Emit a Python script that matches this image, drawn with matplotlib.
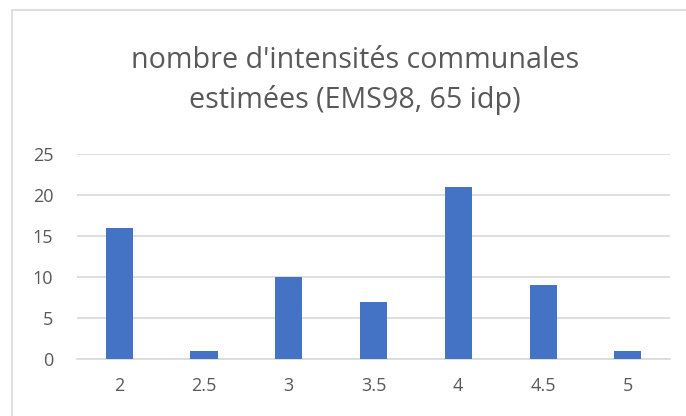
import matplotlib
matplotlib.use("Agg")
import matplotlib.pyplot as plt
from matplotlib.patches import Rectangle

categories = ["2", "2.5", "3", "3.5", "4", "4.5", "5"]
counts = [16, 1, 10, 7, 21, 9, 1]
title = "nombre d'intensités communales\nestimées (EMS98, 65 idp)"

plt.rcParams['font.family'] = ['Open Sans', 'DejaVu Sans']

fig = plt.figure(figsize=(6.86, 4.16), dpi=100)
ax = fig.add_axes([0.112, 0.137, 0.865, 0.493])

x = range(len(categories))
ax.bar(x, counts, width=0.32, color="#4472C4", zorder=3)
ax.set_xticks(list(x))
ax.set_xticklabels(categories)
ax.set_xlim(-0.5, len(categories) - 0.5)
ax.set_ylim(0, 25)
ax.set_yticks([0, 5, 10, 15, 20, 25])
ax.yaxis.grid(True, color="#d9d9d9", linewidth=1.2, zorder=0)
ax.tick_params(axis="both", length=0, labelsize=13, colors="#595959")
ax.tick_params(axis="x", pad=13)
ax.tick_params(axis="y", pad=17)
for s in ["top", "right", "left"]:
    ax.spines[s].set_visible(False)
ax.spines["bottom"].set_color("#d9d9d9")
ax.spines["bottom"].set_linewidth(1.2)

fig.text(0.517, 0.806, title, ha="center", va="center", fontsize=20.6,
         color="#595959", linespacing=1.42)

fig.patches.append(Rectangle((12/686, -0.1), 1.2, (416-10)/416 + 0.1,
                             transform=fig.transFigure, fill=False,
                             edgecolor="#d9d9d9", linewidth=1.2))

fig.savefig("out.png", dpi=100)
